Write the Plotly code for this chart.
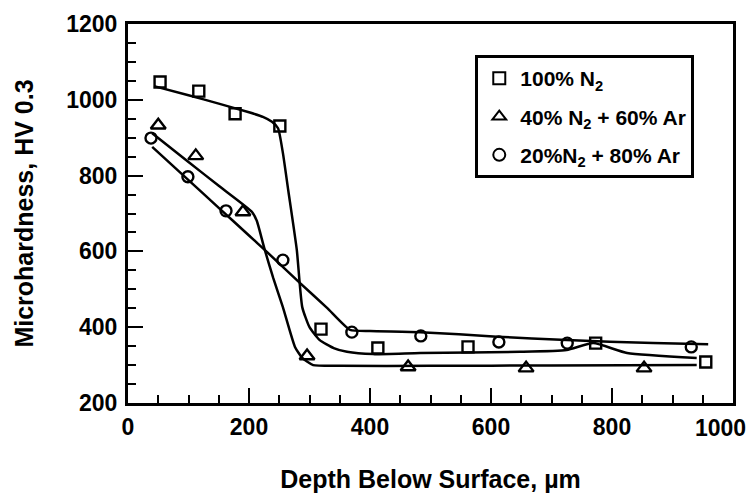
import plotly.graph_objects as go

# Measured points
sq_x = [53, 117, 177, 251, 319, 413, 562, 773, 955]
sq_y = [1047, 1023, 963, 931, 395, 345, 348, 358, 308]
tri_x = [50, 112, 190, 296, 463, 658, 853]
tri_y = [933, 852, 704, 324, 295, 292, 292]
cir_x = [38, 99, 162, 256, 370, 484, 613, 726, 931]
cir_y = [899, 797, 707, 577, 387, 377, 361, 358, 348]

# Fitted curves
sq_fit_x = [43, 100, 150, 200, 223, 238, 248, 256, 265, 279, 288, 300, 317, 340, 362, 405, 483, 648, 725, 769, 825, 940]
sq_fit_y = [1036, 1012, 990, 967, 955, 942, 925, 860, 760, 604, 453, 400, 366, 345, 335, 329, 332, 335, 340, 358, 332, 319]
tri_fit_x = [40, 100, 150, 205, 213, 225, 240, 256, 276, 288, 306, 350, 500, 700, 940]
tri_fit_y = [912, 836, 773, 704, 680, 610, 530, 453, 348, 319, 300, 298, 298, 299, 300]
cir_fit_x = [40, 100, 150, 200, 230, 284, 329, 367, 400, 483, 610, 725, 868, 959]
cir_fit_y = [876, 788, 715, 642, 598, 517, 451, 393, 390, 387, 375, 366, 358, 355]

x_ticks = [0, 200, 400, 600, 800, 1000]
x_tick_labels = ["0", "200", "400", "600", "800", "1000"]
y_ticks = [200, 400, 600, 800, 1000, 1200]
y_tick_labels = ["200", "400", "600", "800", "1000", "1200"]

names = ["<b>100% N<sub>2</sub></b>",
         "<b>40% N<sub>2</sub> + 60% Ar</b>",
         "<b>20%N<sub>2</sub> + 80% Ar</b>"]

FONT = "Liberation Sans, Arial, sans-serif"
fig = go.Figure()

for fx, fy in [(sq_fit_x, sq_fit_y), (tri_fit_x, tri_fit_y), (cir_fit_x, cir_fit_y)]:
    fig.add_trace(go.Scatter(x=fx, y=fy, mode="lines", showlegend=False,
                             line=dict(color="black", width=2.5, shape="spline", smoothing=0.5),
                             hoverinfo="skip"))

for i, (px, py, sym, sz) in enumerate([(sq_x, sq_y, "square-open", 11),
                                       (tri_x, tri_y, "triangle-up-open", 13),
                                       (cir_x, cir_y, "circle-open", 11)]):
    fig.add_trace(go.Scatter(x=px, y=py, mode="markers", name=names[i],
                             legendgroup=f"g{i}",
                             marker=dict(symbol=sym, size=sz, color="black",
                                         line=dict(color="black", width=2.4))))

# last x tick label is nudged left to stay inside the page, as in the reference
xt_text = [f"<b>{t}</b>" for t in x_tick_labels[:-1]] + [""]
fig.add_annotation(x=x_ticks[-1], xref="x", y=0, yref="paper",
                   text=f"<b>{x_tick_labels[-1]}</b>", showarrow=False,
                   xanchor="right", yanchor="middle", xshift=15, yshift=-25,
                   font=dict(family=FONT, size=23, color="black"))

fig.update_layout(
    width=752, height=493,
    margin=dict(l=128, r=19, t=24, b=90),
    paper_bgcolor="white", plot_bgcolor="white",
    font=dict(family=FONT, color="black", size=23),
    showlegend=True,
    legend=dict(x=0.574, y=0.918, xanchor="left", yanchor="top",
                bordercolor="black", borderwidth=3, bgcolor="white",
                font=dict(family=FONT, size=21, color="black"),
                tracegroupgap=8, itemwidth=32, itemsizing="constant"),
    xaxis=dict(range=[0, 1000], tickvals=x_ticks, ticktext=xt_text,
               ticks="inside", ticklen=15, tickwidth=2, tickcolor="black",
               minor=dict(dtick=50, ticks="inside", ticklen=8, tickwidth=2, tickcolor="black"),
               showline=True, linecolor="black", linewidth=3, mirror=True,
               showgrid=False, zeroline=False, ticklabelstandoff=1,
               automargin=False,
               tickfont=dict(family=FONT, size=23),
               title=dict(text="<b>Depth Below Surface, µm</b>", standoff=34,
                          font=dict(family=FONT, size=25))),
    yaxis=dict(range=[200, 1200], tickvals=y_ticks,
               ticktext=[f"<b>{t}</b>" for t in y_tick_labels],
               ticks="inside", ticklen=15, tickwidth=2, tickcolor="black",
               minor=dict(dtick=50, ticks="inside", ticklen=8, tickwidth=2, tickcolor="black"),
               showline=True, linecolor="black", linewidth=3, mirror=True,
               showgrid=False, zeroline=False, ticklabelstandoff=3,
               automargin=False,
               tickfont=dict(family=FONT, size=23),
               title=dict(text="<b>Microhardness, HV 0.3</b>", standoff=26,
                          font=dict(family=FONT, size=25))),
)

fig.write_html("out.html")
